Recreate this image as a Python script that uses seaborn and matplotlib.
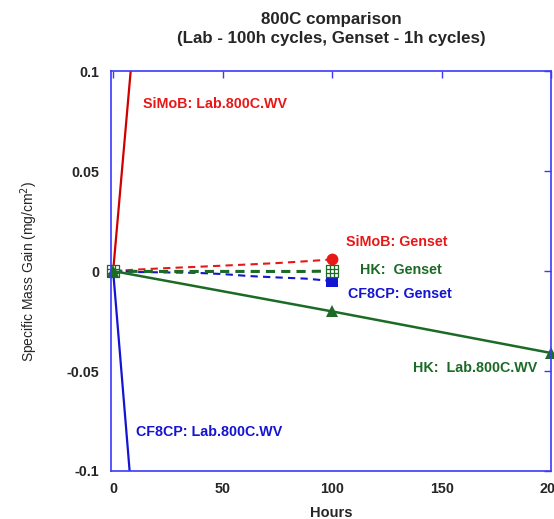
import numpy as np
import pandas as pd
import matplotlib
matplotlib.use("Agg")
import matplotlib.pyplot as plt
from matplotlib.path import Path
import seaborn as sns

# ---- data ----
lab_hours = [0, 100]
simob_lab = [0, 1.25]
cf8cp_lab = [0, -1.33]
hk_lab_hours = [0, 100, 200]
hk_lab = [0, -0.0202, -0.041]

genset_hours = [0, 12, 25, 38, 50, 62, 75, 88, 100]
simob_genset = [0, 0.0008, 0.0015, 0.0021, 0.0027, 0.0033, 0.0040, 0.0049, 0.0058]
hk_genset = [0, -0.0002, -0.0002, -0.0002, -0.0002, -0.0002, -0.0002, -0.0002, 0.0]
cf8cp_genset = [0, -0.0005, -0.0007, -0.0009, -0.0015, -0.0025, -0.0032, -0.0038, -0.0050]

xticks = [0, 50, 100, 150, 200]
yticks = [-0.1, -0.05, 0, 0.05, 0.1]
ytick_labels = ["-0.1", "-0.05", "0", "0.05", "0.1"]

RED = "#e81818"
RED_LINE = "#d00000"
GREEN = "#1b6b26"
BLUE = "#1414d2"
SPINE = "#3a3aff"

sns.set_theme(style="white")
plt.rcParams["font.family"] = ["Liberation Sans", "DejaVu Sans"]

fig = plt.figure(figsize=(5.54, 5.19), dpi=100)
ax = fig.add_axes([0.1995, 0.0925, 0.7955, 0.7705])

# grid-square marker (square with # inside)
verts = [(-1, -1), (1, -1), (1, 1), (-1, 1), (-1, -1),
         (-1/3, -1), (-1/3, 1), (1/3, -1), (1/3, 1),
         (-1, -1/3), (1, -1/3), (-1, 1/3), (1, 1/3)]
codes = [Path.MOVETO, Path.LINETO, Path.LINETO, Path.LINETO, Path.LINETO,
         Path.MOVETO, Path.LINETO, Path.MOVETO, Path.LINETO,
         Path.MOVETO, Path.LINETO, Path.MOVETO, Path.LINETO]
grid_marker = Path(verts, codes)

# Lab (solid) lines
sns.lineplot(x=lab_hours, y=simob_lab, ax=ax, color=RED_LINE, lw=1.6)
sns.lineplot(x=lab_hours, y=cf8cp_lab, ax=ax, color=BLUE, lw=1.6)

# Genset (dashed) lines
sns.lineplot(x=genset_hours, y=simob_genset, ax=ax, color=RED, lw=1.5,
             linestyle=(0, (3.5, 2.5)), marker="o", markersize=8.5,
             markevery=[len(genset_hours) - 1], markeredgewidth=0)
sns.lineplot(x=genset_hours, y=cf8cp_genset, ax=ax, color=BLUE, lw=1.5,
             linestyle=(0, (3.5, 2.5)), marker="s", markersize=8.5,
             markevery=[len(genset_hours) - 1], markeredgewidth=0)
sns.lineplot(x=genset_hours, y=hk_genset, ax=ax, color=GREEN, lw=2.2,
             linestyle=(0, (3, 2)), marker=grid_marker, markersize=9,
             markevery=[0, len(genset_hours) - 1], markerfacecolor="white",
             markeredgecolor=GREEN, markeredgewidth=0.9, clip_on=False)

# HK Lab line
sns.lineplot(x=hk_lab_hours, y=hk_lab, ax=ax, color=GREEN, lw=1.8,
             marker="^", markersize=8, markeredgewidth=0, clip_on=False)

ax.set_xlim(-1.2, 200)
ax.set_ylim(-0.1, 0.1)
ax.set_xticks(xticks)
ax.set_yticks(yticks)
ax.set_yticklabels(ytick_labels)
ax.tick_params(direction="in", length=5, width=1, color=SPINE,
               top=True, right=True, labelsize=10.3, pad=8)
for lab in ax.get_xticklabels() + ax.get_yticklabels():
    lab.set_fontweight("bold")
for s in ax.spines.values():
    s.set_color(SPINE)
    s.set_linewidth(1.2)
    s.set_visible(True)

ax.set_xlabel("Hours", fontsize=10.5, fontweight="bold", labelpad=7)
ax.set_ylabel("Specific Mass Gain (mg/cm$^2$)", fontsize=10, labelpad=19)
ax.set_title("800C comparison\n(Lab - 100h cycles, Genset - 1h cycles)",
             fontsize=12.2, fontweight="bold", pad=20, linespacing=1.4)

ann = dict(fontsize=10.3, fontweight="bold", transform=ax.transData, va="center")
ax.text(13.5, 0.0835, "SiMoB: Lab.800C.WV", color=RED, **ann)
ax.text(106.5, 0.0147, "SiMoB: Genset", color=RED, **ann)
ax.text(112.5, 0.0005, "HK:  Genset", color=GREEN, **ann)
ax.text(107, -0.0115, "CF8CP: Genset", color=BLUE, **ann)
ax.text(137, -0.0487, "HK:  Lab.800C.WV", color=GREEN, **ann)
ax.text(10.5, -0.0805, "CF8CP: Lab.800C.WV", color=BLUE, **ann)

fig.savefig("out.png", dpi=100)
